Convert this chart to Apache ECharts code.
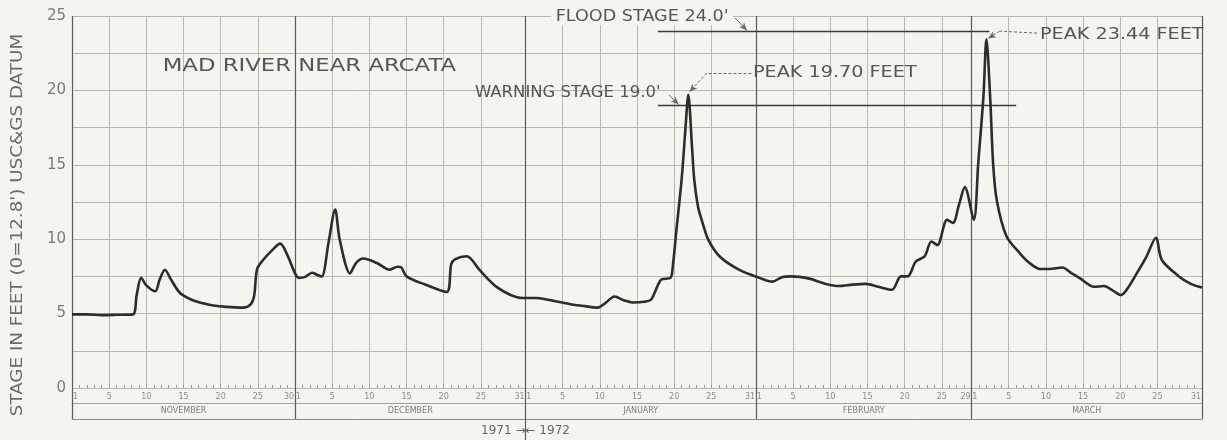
<!DOCTYPE html>
<html>
<head>
<meta charset="utf-8">
<title>Mad River near Arcata</title>
<script src="https://cdn.jsdelivr.net/npm/echarts@6/dist/echarts.min.js"></script>
<style>
  html, body { margin: 0; padding: 0; background: #f5f5ef; }
  #chart { width: 1227px; height: 440px; }
</style>
</head>
<body>
<div id="chart"></div>
<script>
// stage hydrograph, 1 Nov 1971 - 31 Mar 1972
// x = days counted from the start of November (day d of a month sits at monthStart + d)
var months = ['NOVEMBER', 'DECEMBER', 'JANUARY', 'FEBRUARY', 'MARCH'];
var monthDays = [30, 31, 31, 29, 31];
var dayTicks = [5, 10, 15, 20, 25];

var dayPos = [0, 2, 4, 6, 8.2, 8.7, 9.3, 10.0, 11.2, 11.8, 12.5, 13.3, 14.5, 16.0, 17.6, 19.0,
  20.8, 23.0, 24.0, 24.5, 24.9, 25.7, 27.0, 28.0, 29.0, 30.0, 30.5, 31.3, 32.3, 33.0, 33.6,
  34.5, 35.4, 36.0, 37.4, 38.2, 39.2, 41.0, 42.7, 43.8, 44.3, 45.0, 47.5, 50.4, 51.0, 51.5,
  53.1, 54.8, 56.0, 57.1, 59.0, 60.6, 62.5, 63.8, 66.9, 69.0, 70.7, 71.6, 73.0, 74.2, 75.4,
  77.0, 77.9, 78.8, 79.3, 80.5, 80.8, 81.3, 82.0, 82.5, 82.9, 83.4, 83.7, 84.2, 84.7, 85.6,
  87.2, 89.9, 92.5, 94.2, 95.5, 96.7, 99.2, 101.0, 103.2, 105.0, 106.8, 108.5, 110.3, 111.5,
  112.4, 113.5, 114.7, 115.6, 116.4, 117.7, 118.5, 119.3, 120.1, 121.3, 121.9, 122.6, 123.0,
  123.5, 123.9, 124.4, 125.7, 127.5, 128.8, 130.2, 131.5, 133.2, 134.5, 135.5, 137.5, 138.8,
  140.0, 141.1, 142.0, 143.1, 144.5, 145.8, 146.6, 148.9, 150.5, 152];
var stage = [4.95, 4.95, 4.9, 4.92, 4.95, 6.25, 7.4, 6.9, 6.5, 7.3, 7.95, 7.3, 6.4, 5.95, 5.7, 5.55,
  5.45, 5.4, 5.6, 6.2, 8.0, 8.6, 9.3, 9.7, 8.9, 7.7, 7.4, 7.45, 7.75, 7.6, 7.5,
  9.75, 12.0, 10.0, 7.7, 8.4, 8.7, 8.4, 7.95, 8.15, 8.1, 7.5, 6.95, 6.45, 8.3, 8.65,
  8.85, 7.95, 7.3, 6.8, 6.25, 6.05, 6.05, 5.95, 5.65, 5.5, 5.4, 5.65, 6.15, 5.9, 5.75,
  5.8, 5.95, 6.9, 7.3, 7.4, 8.1, 10.6, 14.0, 17.3, 19.7, 16.2, 14.0, 12.2, 11.3, 9.95,
  8.8, 7.9, 7.4, 7.15, 7.45, 7.5, 7.35, 7.05, 6.85, 6.95, 7.0, 6.8, 6.6, 7.5,
  7.5, 8.5, 8.85, 9.85, 9.6, 11.3, 11.1, 12.3, 13.5, 11.3, 15.1, 19.6, 23.44,
  19.6, 15.1, 12.6, 10.2, 9.05, 8.4, 8.0, 8.0, 8.1, 7.7, 7.4, 6.8, 6.85,
  6.55, 6.25, 6.7, 7.6, 8.8, 10.1, 8.6, 7.5, 7.0, 6.75];

var floodStage = 24.0;
var warningStage = 19.0;
var peak1 = [82.9, 19.70];
var peak2 = [123.0, 23.44];

// month layout derived from the day counts
var monthStart = [];
var total = 0;
monthDays.forEach(function (n) { monthStart.push(total); total += n; });
var boundaries = monthStart.concat([total]);
var gridPos = [], labelPos = [], labelText = {}, monthMid = [], monthName = {}, dailyPos = [];
function key(v) { return Math.round(v * 100); }
monthDays.forEach(function (n, i) {
  var s = monthStart[i];
  dayTicks.forEach(function (d) {
    gridPos.push(s + d);
    labelPos.push(s + d); labelText[key(s + d)] = String(d);
  });
  labelPos.push(s + 0.45); labelText[key(s + 0.45)] = '1';
  labelPos.push(s + n - 0.8); labelText[key(s + n - 0.8)] = String(n);
  monthMid.push(s + n / 2); monthName[key(s + n / 2)] = months[i];
});
for (var d = 1; d < total; d++) dailyPos.push(d);

var paper = '#f5f5ef';
var ink = '#555553';
var gridColor = '#b9b9b3';

var chart = echarts.init(document.getElementById('chart'));

function seg(a, b, style, endSymbol) {
  return [
    { coord: a, symbol: 'none', lineStyle: style },
    { coord: b, symbol: endSymbol || 'none', symbolSize: [5, 8] }
  ];
}
var solid = { color: '#3c3c3a', width: 1.3, type: 'solid' };
var thin = { color: '#6a6a68', width: 1, type: 'solid' };
var dashed = { color: '#6a6a68', width: 1, type: [3, 2] };

var option = {
  backgroundColor: paper,
  animation: false,
  grid: { left: 72, right: 25, top: 16, bottom: 52, outerBoundsMode: 'none' },
  xAxis: [
    { // day labels and 5-day grid lines
      type: 'value', min: 0, max: total, position: 'bottom',
      axisLine: { show: false },
      axisTick: { show: false, customValues: gridPos },
      splitLine: { show: true, lineStyle: { color: gridColor, width: 1 } },
      axisLabel: {
        customValues: labelPos,
        formatter: function (v) { return labelText[key(v)] || ''; },
        fontSize: 8, color: '#8c8c88', margin: 5, fontFamily: 'DejaVu Sans'
      }
    },
    { // daily ticks along zero line
      type: 'value', min: 0, max: total, position: 'bottom',
      axisLine: { show: false },
      axisTick: { show: true, inside: true, length: 3, customValues: dailyPos, lineStyle: { color: '#9a9a96' } },
      axisLabel: { show: false }, splitLine: { show: false }
    },
    { // month names
      type: 'value', min: 0, max: total, position: 'bottom', offset: 15,
      axisLine: { show: true, lineStyle: { color: '#a2a29e' } },
      axisTick: { show: false },
      axisLabel: {
        customValues: monthMid,
        formatter: function (v) { return monthName[key(v)] || ''; },
        fontSize: 8, color: '#7c7c78', margin: 4, fontFamily: 'DejaVu Sans'
      },
      splitLine: { show: false }
    },
    { // month boundaries, full height
      type: 'value', min: 0, max: total, position: 'bottom', offset: 31,
      axisLine: { show: true, lineStyle: { color: '#8e8e8a' } },
      axisTick: { show: true, inside: true, length: 403, customValues: boundaries, lineStyle: { color: '#5a5a58', width: 1.2 } },
      axisLabel: { show: false }, splitLine: { show: false }
    },
    { // change of year
      type: 'value', min: 0, max: total, position: 'bottom', offset: 31,
      axisLine: { show: false },
      axisTick: { show: true, inside: false, length: 21, customValues: [monthStart[2]], lineStyle: { color: '#5a5a58', width: 1.2 } },
      axisLabel: {
        customValues: [monthStart[2]],
        formatter: function () { return '1971 \u2192\u2190 1972'; },
        fontSize: 12, color: '#666664', margin: 6, fontFamily: 'DejaVu Sans'
      },
      splitLine: { show: false }
    }
  ],
  yAxis: {
    type: 'value', min: 0, max: 25, interval: 2.5,
    axisLine: { show: false }, axisTick: { show: false },
    axisLabel: {
      formatter: function (v) { return v % 5 === 0 ? String(v) : ''; },
      fontSize: 15, color: '#7a7a76', margin: 6, fontFamily: 'DejaVu Sans'
    },
    splitLine: { lineStyle: { color: gridColor, width: 1 } }
  },
  series: [{
    type: 'line',
    xAxisIndex: 0, yAxisIndex: 0,
    data: dayPos.map(function (t, i) { return [t, stage[i]]; }),
    smooth: 0.3,
    symbol: 'none',
    z: 5,
    lineStyle: { color: '#2c2c2a', width: 2.6 },
    markLine: {
      silent: true, animation: false, label: { show: false },
      data: [
        seg([78.8, floodStage], [123.4, floodStage], solid),
        seg([78.8, warningStage], [127.0, warningStage], solid),
        seg([89.2, 24.87], [90.8, 24.02], thin, 'arrow'),
        seg([80.3, 19.7], [81.6, 19.05], thin, 'arrow'),
        seg([91.4, 21.17], [85.4, 21.17], dashed),
        seg([85.4, 21.17], [peak1[0] + 0.15, peak1[1] + 0.2], dashed, 'arrow'),
        seg([129.8, 23.85], [124.8, 23.98], dashed),
        seg([124.8, 23.98], [peak2[0] + 0.2, peak2[1] + 0.05], dashed, 'arrow')
      ]
    }
  }]
};
chart.setOption(option);

function at(t, v) { return chart.convertToPixel({ seriesIndex: 0 }, [t, v]); }
function label(pos, text, align, size, sx, bg) {
  var p = at(pos[0], pos[1]);
  return {
    type: 'text', x: p[0], y: p[1], scaleX: sx, z: 20,
    style: {
      text: text, fill: ink, fontSize: size, fontFamily: 'DejaVu Sans',
      align: align, verticalAlign: 'middle',
      backgroundColor: bg || 'transparent', padding: bg ? [0, 4] : 0
    }
  };
}
chart.setOption({
  graphic: [
    label([12.2, 21.57], 'MAD RIVER NEAR ARCATA', 'left', 17, 1.34),
    label([88.9, 24.93], 'FLOOD STAGE 24.0\'', 'right', 16, 1.1, paper),
    label([54.2, 19.83], 'WARNING STAGE 19.0\'', 'left', 16, 1.03),
    label([91.6, 21.17], 'PEAK 19.70 FEET', 'left', 16, 1.2),
    label([130.2, 23.72], 'PEAK 23.44 FEET', 'left', 16, 1.2),
    {
      type: 'text', x: 18, y: 225, rotation: Math.PI / 2, scaleX: 1.22, z: 20,
      style: {
        text: 'STAGE IN FEET (0=12.8\') USC&GS DATUM', fill: '#6a6a68', fontSize: 15,
        fontFamily: 'DejaVu Sans', align: 'center', verticalAlign: 'middle'
      }
    }
  ]
});
</script>
</body>
</html>
